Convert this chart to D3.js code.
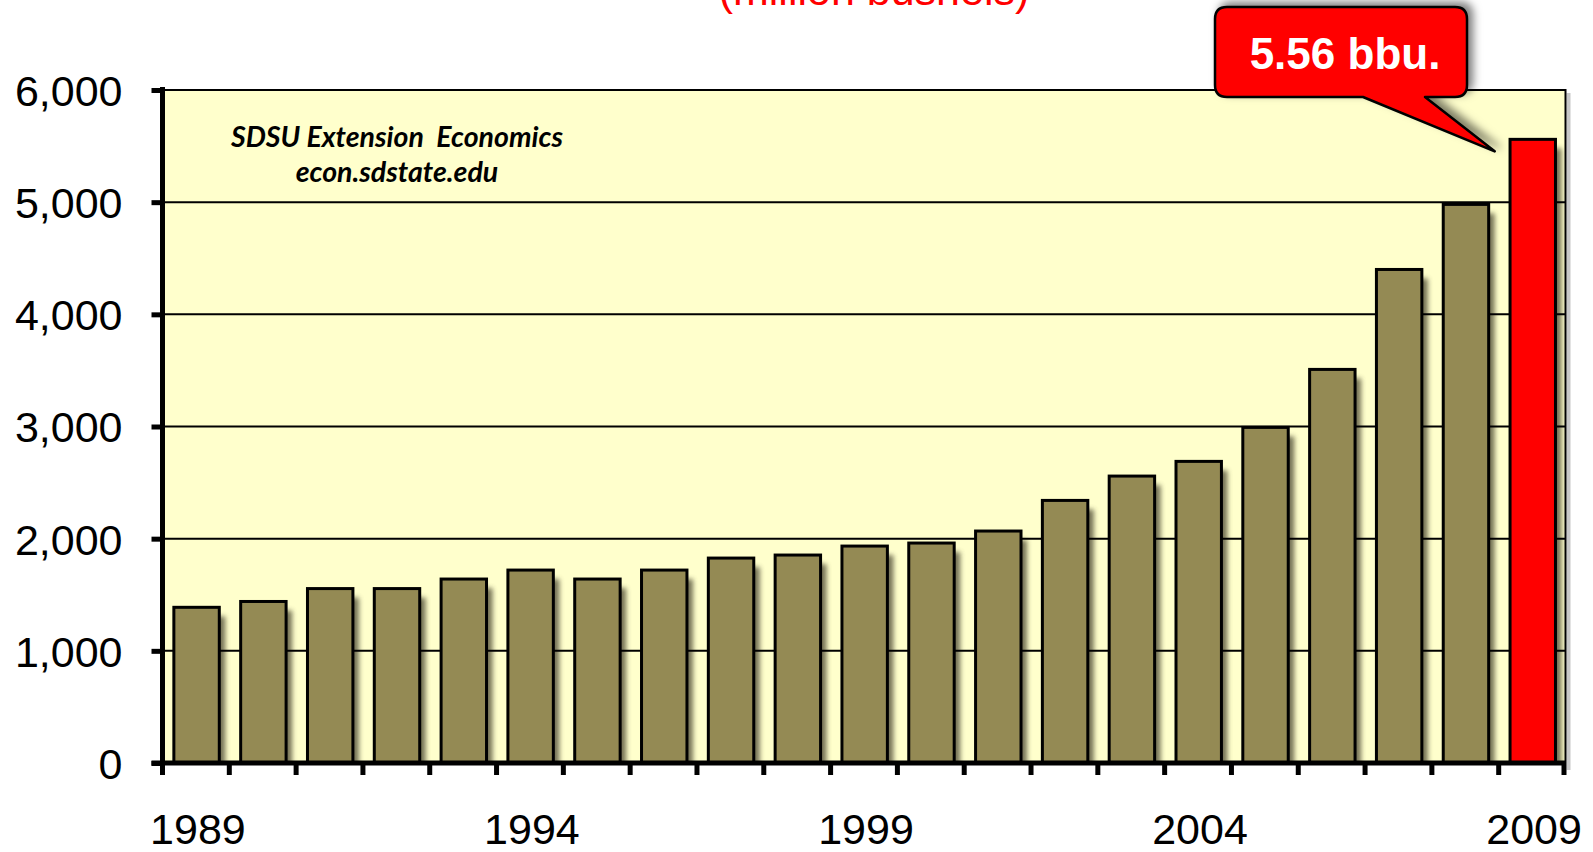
<!DOCTYPE html>
<html>
<head>
<meta charset="utf-8">
<script src="https://cdn.jsdelivr.net/npm/d3@7"></script>
<style>
  body { margin: 0; background: #fff; }
  svg { display: block; }
</style>
</head>
<body>
<div id="chart"></div>
<script>
// years on the x axis
var years = [1989, 1990, 1991, 1992, 1993, 1994, 1995, 1996, 1997, 1998, 1999,
             2000, 2001, 2002, 2003, 2004, 2005, 2006, 2007, 2008, 2009];
// million bushels
var values = [1388, 1440, 1555, 1555, 1640, 1720, 1640, 1720, 1827, 1854, 1934,
              1961, 2068, 2341, 2558, 2689, 2992, 3509, 4400, 4980, 5560];
var yTicks = [0, 1000, 2000, 3000, 4000, 5000, 6000];
var xLabels = [1989, 1994, 1999, 2004, 2009];
var highlightYear = 2009;
var calloutText = "5.56 bbu.";
var subtitle = "(million bushels)";
var credit = ["SDSU Extension  Economics", "econ.sdstate.edu"];

var width = 1593, height = 852;
var plotLeft = 162.5, plotRight = 1565.5, plotTop = 90, plotBottom = 763;

var svg = d3.select("#chart").append("svg")
    .attr("width", width)
    .attr("height", height);

var defs = svg.append("defs");
defs.append("filter").attr("id", "blur")
    .attr("x", "-50%").attr("y", "-50%").attr("width", "200%").attr("height", "200%")
    .append("feGaussianBlur").attr("stdDeviation", 2.8);
defs.append("clipPath").attr("id", "plotclip")
    .append("rect").attr("x", plotLeft).attr("y", plotTop)
    .attr("width", plotRight - plotLeft).attr("height", plotBottom - plotTop);
var ds = defs.append("filter").attr("id", "callshadow")
    .attr("x", "-20%").attr("y", "-40%").attr("width", "140%").attr("height", "180%");
ds.append("feDropShadow").attr("dx", 5).attr("dy", -4)
    .attr("stdDeviation", 4).attr("flood-color", "#000").attr("flood-opacity", 0.5);

var x = d3.scaleBand().domain(years).range([plotLeft, plotRight]).paddingInner(0).paddingOuter(0);
var y = d3.scaleLinear().domain([0, 6000]).range([plotBottom, plotTop]);
var bw = x.bandwidth();

// plot background
svg.append("rect")
    .attr("x", plotLeft).attr("y", plotTop)
    .attr("width", plotRight - plotLeft).attr("height", plotBottom - plotTop)
    .attr("fill", "#FFFFCC");

// bar shadows
svg.append("g").attr("clip-path", "url(#plotclip)")
  .selectAll("rect")
  .data(years)
  .enter()
  .append("rect")
    .attr("x", function (d) { return x(d) + bw * 0.17 + 6; })
    .attr("y", function (d, i) { return y(values[i]) + 9; })
    .attr("width", bw * 0.68)
    .attr("height", function (d, i) { return plotBottom - y(values[i]); })
    .attr("fill", "#66644a")
    .attr("opacity", 0.9)
    .attr("filter", "url(#blur)");

// gridlines
svg.append("g")
  .selectAll("line")
  .data(yTicks.filter(function (t) { return t > 0 && t < 6000; }))
  .enter()
  .append("line")
    .attr("x1", plotLeft).attr("x2", plotRight)
    .attr("y1", function (d) { return y(d); })
    .attr("y2", function (d) { return y(d); })
    .attr("stroke", "#000")
    .attr("stroke-width", 2);

// bars
svg.append("g")
  .selectAll("rect")
  .data(years)
  .enter()
  .append("rect")
    .attr("x", function (d) { return x(d) + bw * 0.17; })
    .attr("y", function (d, i) { return y(values[i]); })
    .attr("width", bw * 0.68)
    .attr("height", function (d, i) { return plotBottom - y(values[i]); })
    .attr("fill", function (d) { return d === highlightYear ? "#FF0000" : "#948A54"; })
    .attr("stroke", "#000")
    .attr("stroke-width", 3);

// plot frame: top + right, with a light shadow on the right
svg.append("rect")
    .attr("x", plotRight + 1).attr("y", plotTop + 3)
    .attr("width", 4).attr("height", plotBottom - plotTop + 4)
    .attr("fill", "#c8c8c8");
svg.append("path")
    .attr("d", "M" + plotLeft + "," + plotTop + "H" + plotRight + "V" + plotBottom)
    .attr("fill", "none")
    .attr("stroke", "#000")
    .attr("stroke-width", 2);

// y axis
var yAxis = d3.axisLeft(y).tickValues(yTicks).tickSize(11).tickFormat(d3.format(","));
var gy = svg.append("g").attr("transform", "translate(" + plotLeft + ",0)").call(yAxis);
gy.select(".domain").attr("stroke", "#000").attr("stroke-width", 5)
    .attr("d", "M0," + (plotTop - 3) + "V" + (plotBottom + 3));
gy.selectAll(".tick line").attr("stroke", "#000").attr("stroke-width", 5);
gy.selectAll(".tick text")
    .attr("x", -40)
    .attr("dy", "0.36em")
    .attr("fill", "#000")
    .style("font-family", "'Liberation Sans', Arial, sans-serif")
    .style("font-size", "43px");

// x axis: ticks on the band boundaries
var xAxis = svg.append("g");
xAxis.append("line")
    .attr("x1", plotLeft - 11).attr("x2", plotRight)
    .attr("y1", plotBottom).attr("y2", plotBottom)
    .attr("stroke", "#000").attr("stroke-width", 5);
xAxis.selectAll("line.xt")
  .data(years.concat(["end"]))
  .enter()
  .append("line")
    .attr("class", "xt")
    .attr("x1", function (d) { return d === "end" ? plotRight - 1.5 : x(d); })
    .attr("x2", function (d) { return d === "end" ? plotRight - 1.5 : x(d); })
    .attr("y1", plotBottom).attr("y2", plotBottom + 12)
    .attr("stroke", "#000").attr("stroke-width", 5);
xAxis.selectAll("text")
  .data(xLabels)
  .enter()
  .append("text")
    .attr("x", function (d) { return x(d) + bw / 2 + 2; })
    .attr("y", 844)
    .attr("text-anchor", "middle")
    .attr("fill", "#000")
    .style("font-family", "'Liberation Sans', Arial, sans-serif")
    .style("font-size", "43px")
    .text(function (d) { return d; });

// subtitle (cut off at the top, as in the slide)
svg.append("text")
    .attr("x", 874).attr("y", 5)
    .attr("text-anchor", "middle")
    .attr("fill", "#FF0000")
    .style("font-family", "'Liberation Sans', Arial, sans-serif")
    .style("font-size", "43px")
    .text(subtitle);

// credit text
svg.append("g").selectAll("text")
  .data(credit)
  .enter()
  .append("text")
    .attr("x", 397)
    .attr("y", function (d, i) { return 147 + i * 35; })
    .attr("text-anchor", "middle")
    .attr("fill", "#000")
    .style("font-family", "Lato, 'Open Sans', sans-serif")
    .style("font-style", "italic")
    .style("font-weight", "bold")
    .style("font-size", "28.5px")
    .style("white-space", "pre")
    .text(function (d) { return d; });

// callout
var tipX = x(highlightYear) - 4;
var tipY = y(values[years.indexOf(highlightYear)]) + 12;
var cL = 1215, cR = 1467, cT = 7, cB = 97, cr = 12, p1 = 1363, p2 = 1425;
var callPath = "M" + (cL + cr) + "," + cT + "H" + (cR - cr) +
    "Q" + cR + "," + cT + " " + cR + "," + (cT + cr) + "V" + (cB - cr) +
    "Q" + cR + "," + cB + " " + (cR - cr) + "," + cB + "H" + p2 +
    "L" + tipX + "," + tipY + "L" + p1 + "," + cB + "H" + (cL + cr) +
    "Q" + cL + "," + cB + " " + cL + "," + (cB - cr) + "V" + (cT + cr) +
    "Q" + cL + "," + cT + " " + (cL + cr) + "," + cT + "Z";
svg.append("path")
    .attr("d", callPath)
    .attr("fill", "#FF0000")
    .attr("stroke", "#000")
    .attr("stroke-width", 2.5)
    .attr("stroke-linejoin", "round")
    .attr("filter", "url(#callshadow)");
svg.append("text")
    .attr("x", 1345).attr("y", 69)
    .attr("text-anchor", "middle")
    .attr("fill", "#fff")
    .style("font-family", "'Liberation Sans', Arial, sans-serif")
    .style("font-weight", "bold")
    .style("font-size", "44px")
    .text(calloutText);
</script>
</body>
</html>
